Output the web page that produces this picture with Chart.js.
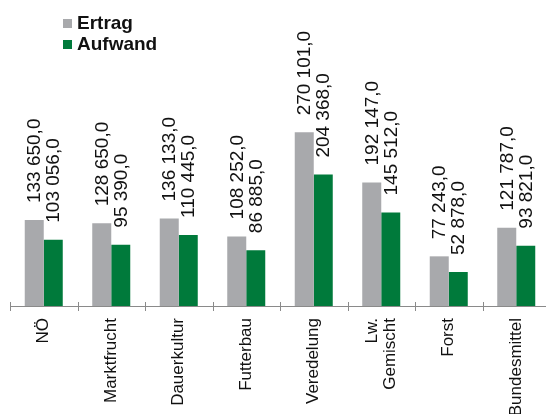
<!DOCTYPE html>
<html>
<head>
<meta charset="utf-8">
<script src="https://cdn.jsdelivr.net/npm/chart.js@4/dist/chart.umd.min.js"></script>
<style>
  html, body { margin: 0; padding: 0; background: #fff; overflow: hidden; }
  #wrap { width: 556px; height: 414px; }
</style>
</head>
<body>
<div id="wrap"><canvas id="ertragChart" width="556" height="414"></canvas></div>
<script>
// Ertrag und Aufwand je Betriebsform
const kategorien = ['NÖ', 'Marktfrucht', 'Dauerkultur', 'Futterbau', 'Veredelung', ['Lw.', 'Gemischt'], 'Forst', 'Bundesmittel'];
const ertrag = [133650, 128650, 136133, 108252, 270101, 192147, 77243, 121787];
const aufwand = [103056, 95390, 110445, 86885, 204368, 145512, 52878, 93821];

const GRAU = '#a8a9ac';
const GRUEN = '#007a3b';
const ACHSE = '#8a8a8a';
const SCHRIFT = '"Liberation Sans", Arial, sans-serif';

function formatWert(v) {
  // 133650 -> "133 650,0"
  const s = String(Math.round(v));
  return s.replace(/\B(?=(\d{3})+(?!\d))/g, ' ') + ',0';
}

// Werte senkrecht über den Balken
const wertLabels = {
  id: 'wertLabels',
  afterDatasetsDraw(chart) {
    const ctx = chart.ctx;
    ctx.save();
    ctx.font = '19px ' + SCHRIFT;
    ctx.fillStyle = '#111';
    ctx.textAlign = 'left';
    ctx.textBaseline = 'middle';
    chart.data.datasets.forEach((ds, i) => {
      chart.getDatasetMeta(i).data.forEach((bar, j) => {
        ctx.save();
        ctx.translate(bar.x + 1, bar.y - 17);
        ctx.rotate(-Math.PI / 2);
        ctx.fillText(formatWert(ds.data[j]), 0, 0);
        ctx.restore();
      });
    });
    ctx.restore();
  }
};

// Teilstriche, Kategorienamen (senkrecht, mehrzeilig zentriert) und Legende
const achseUndLegende = {
  id: 'achseUndLegende',
  afterDraw(chart) {
    const ctx = chart.ctx;
    const x = chart.scales.x;
    const y0 = chart.chartArea.bottom;
    ctx.save();
    ctx.strokeStyle = ACHSE;
    ctx.lineWidth = 1;
    for (let i = 0; i <= kategorien.length; i++) {
      const px = Math.round(x.getPixelForValue(i - 0.5)) + 0.5;
      ctx.beginPath();
      ctx.moveTo(px, y0 - 4);
      ctx.lineTo(px, y0 + 5);
      ctx.stroke();
    }

    ctx.font = '17px ' + SCHRIFT;
    ctx.fillStyle = '#111';
    ctx.textAlign = 'right';
    ctx.textBaseline = 'middle';
    kategorien.forEach((k, i) => {
      const zeilen = Array.isArray(k) ? k : [k];
      const px = x.getPixelForValue(i);
      zeilen.forEach((z, n) => {
        ctx.save();
        ctx.translate(px + (n - (zeilen.length - 1) / 2) * 18, y0 + 12);
        ctx.rotate(-Math.PI / 2);
        ctx.fillText(z, 0, 0);
        ctx.restore();
      });
    });

    ctx.font = 'bold 19px ' + SCHRIFT;
    ctx.textAlign = 'left';
    chart.data.datasets.forEach((ds, i) => {
      const top = 19 + i * 21;
      ctx.fillStyle = ds.backgroundColor;
      ctx.fillRect(63, top, 9, 9);
      ctx.fillStyle = '#111';
      ctx.fillText(ds.label, 77, top + 4.5);
    });
    ctx.restore();
  }
};

new Chart(document.getElementById('ertragChart'), {
  type: 'bar',
  data: {
    labels: kategorien,
    datasets: [
      { label: 'Ertrag', data: ertrag, backgroundColor: GRAU },
      { label: 'Aufwand', data: aufwand, backgroundColor: GRUEN }
    ]
  },
  options: {
    responsive: false,
    animation: false,
    events: [],
    layout: { padding: { left: 10, right: 6, top: 0, bottom: 0 } },
    datasets: {
      bar: { barPercentage: 1, categoryPercentage: 0.563 }
    },
    plugins: {
      legend: { display: false },
      tooltip: { enabled: false }
    },
    scales: {
      x: {
        grid: { display: false, drawTicks: false },
        border: { display: true, color: ACHSE, width: 1 },
        ticks: { display: false },
        afterFit(scale) { scale.height = 108; }
      },
      y: {
        display: false,
        min: 0,
        max: 476000
      }
    }
  },
  plugins: [wertLabels, achseUndLegende]
});
</script>
</body>
</html>
